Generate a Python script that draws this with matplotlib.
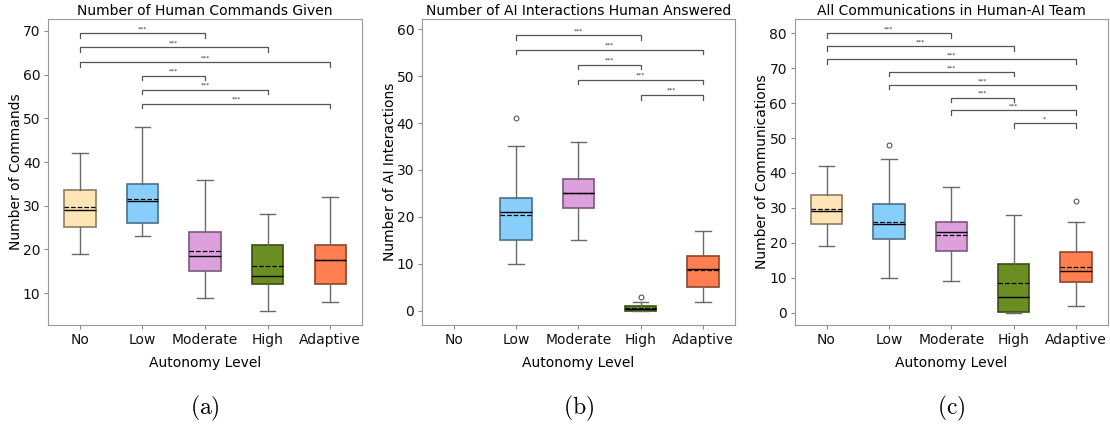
import matplotlib
matplotlib.use("Agg")
import matplotlib.pyplot as plt
from matplotlib.colors import to_rgb

plt.rcParams["mathtext.fontset"] = "cm"

levels = ["No", "Low", "Moderate", "High", "Adaptive"]
fills = ["#FFE4B5", "#87CEFA", "#DDA0DD", "#6B8E23", "#FF7F50"]

# (a) human commands: whisker low, q1, median, q3, whisker high, mean, outliers
cmd_lo = [19, 23, 9, 6, 8]
cmd_q1 = [25.2, 26, 15, 12, 12.2]
cmd_med = [29, 31, 18.6, 14, 17.5]
cmd_q3 = [33.7, 35, 24, 21, 21]
cmd_hi = [42, 48, 36, 28, 32]
cmd_mean = [29.8, 31.5, 19.7, 16.1, 17.5]
cmd_fliers = [[], [], [], [], []]
cmd_pairs = [(0, 2), (0, 3), (0, 4), (1, 2), (1, 3), (1, 4)]
cmd_stars = ["***"] * 6
cmd_heights = [69.5, 66.3, 62.9, 59.8, 56.6, 53.4]

# (b) AI interactions answered (no data for the "No" level)
ai_lo = [None, 10, 15, 0, 2]
ai_q1 = [None, 15, 22, 0, 5]
ai_med = [None, 21, 25.1, 0.5, 9]
ai_q3 = [None, 24, 28, 1, 11.8]
ai_hi = [None, 35, 36, 2, 17]
ai_mean = [None, 20.4, 25, 0.6, 8.7]
ai_fliers = [[], [41], [], [3], []]
ai_pairs = [(1, 3), (1, 4), (2, 3), (2, 4), (3, 4)]
ai_stars = ["***"] * 5
ai_heights = [58.7, 55.6, 52.4, 49.2, 46.0]

# (c) all communications
com_lo = [19, 10, 9, 0, 2]
com_q1 = [25.3, 21, 17.8, 0.3, 8.9]
com_med = [29.2, 25.5, 23, 4.6, 12.1]
com_q3 = [33.8, 31.2, 26, 14, 17.3]
com_hi = [42, 44, 36, 28, 26]
com_mean = [29.7, 26, 22.4, 8.5, 13.2]
com_fliers = [[], [48], [], [], [32]]
com_pairs = [(0, 2), (0, 3), (0, 4), (1, 3), (1, 4), (2, 3), (2, 4), (3, 4)]
com_stars = ["***"] * 7 + ["*"]
com_heights = [80.0, 76.2, 72.6, 68.9, 65.2, 61.5, 57.9, 54.3]


def darker(c, f=0.55):
    r, g, b = to_rgb(c)
    return (r * f, g * f, b * f)


def draw_panel(ax, lo, q1, med, q3, hi, mean, fliers, pairs, stars, heights,
               title, ylabel, ylim, yticks, bracket_tick):
    for i, lev in enumerate(levels):
        if lo[i] is None:
            continue
        st = dict(whislo=lo[i], q1=q1[i], med=med[i], q3=q3[i], whishi=hi[i],
                  mean=mean[i], fliers=fliers[i], label=lev)
        ax.bxp([st], positions=[i], widths=0.5, patch_artist=True,
               showmeans=True, meanline=True, manage_ticks=False,
               boxprops=dict(facecolor=fills[i], edgecolor=darker(fills[i]),
                             linewidth=1.2),
               whiskerprops=dict(color="#6a6a6a", linewidth=1.0),
               capprops=dict(color="#6a6a6a", linewidth=1.0),
               medianprops=dict(color="black", linewidth=1.0),
               meanprops=dict(color="black", linestyle="--", linewidth=0.9),
               flierprops=dict(marker="o", markersize=3.5, markerfacecolor="none",
                               markeredgecolor="#444444", markeredgewidth=0.7))
    for (a, b), s, h in zip(pairs, stars, heights):
        ax.plot([a, a, b, b], [h - bracket_tick, h, h, h - bracket_tick],
                color="#555555", linewidth=0.9)
        ax.text((a + b) / 2, h + bracket_tick * 0.4, s, ha="center", va="bottom",
                fontsize=4.5, color="#333333")
    ax.set_xlim(-0.51, 4.51)
    ax.set_ylim(*ylim)
    ax.set_yticks(yticks)
    ax.set_xticks(range(len(levels)))
    ax.set_xticklabels(levels, fontsize=10)
    ax.tick_params(axis="y", labelsize=10)
    ax.tick_params(colors="#888888", labelcolor="#111111", length=3, pad=2.5)
    for sp in ax.spines.values():
        sp.set_color("#999999")
    ax.set_title(title, fontsize=10, pad=3)
    ax.set_ylabel(ylabel, fontsize=10, labelpad=0)
    ax.set_xlabel("Autonomy Level", fontsize=10, labelpad=7)


fig = plt.figure(figsize=(11.10, 4.26), dpi=100)
ax1 = fig.add_axes([0.0432, 0.237, 0.283, 0.718])
ax2 = fig.add_axes([0.380, 0.237, 0.282, 0.718])
ax3 = fig.add_axes([0.716, 0.237, 0.282, 0.718])

draw_panel(ax1, cmd_lo, cmd_q1, cmd_med, cmd_q3, cmd_hi, cmd_mean, cmd_fliers,
           cmd_pairs, cmd_stars, cmd_heights, "Number of Human Commands Given",
           "Number of Commands", (2.7, 72.7), range(10, 71, 10), 1.1)
draw_panel(ax2, ai_lo, ai_q1, ai_med, ai_q3, ai_hi, ai_mean, ai_fliers,
           ai_pairs, ai_stars, ai_heights, "Number of AI Interactions Human Answered",
           "Number of AI Interactions", (-3.0, 62.1), range(0, 61, 10), 1.0)
draw_panel(ax3, com_lo, com_q1, com_med, com_q3, com_hi, com_mean, com_fliers,
           com_pairs, com_stars, com_heights, "All Communications in Human-AI Team",
           "Number of Communications", (-3.5, 84.0), range(0, 81, 10), 1.3)

for ax, tag in zip([ax1, ax2, ax3], ["a", "b", "c"]):
    bb = ax.get_position()
    fig.text(bb.x0 + bb.width / 2, 0.042, r"$\mathrm{(%s)}$" % tag,
             ha="center", va="center", fontsize=17)

fig.savefig("out.png", dpi=100)
